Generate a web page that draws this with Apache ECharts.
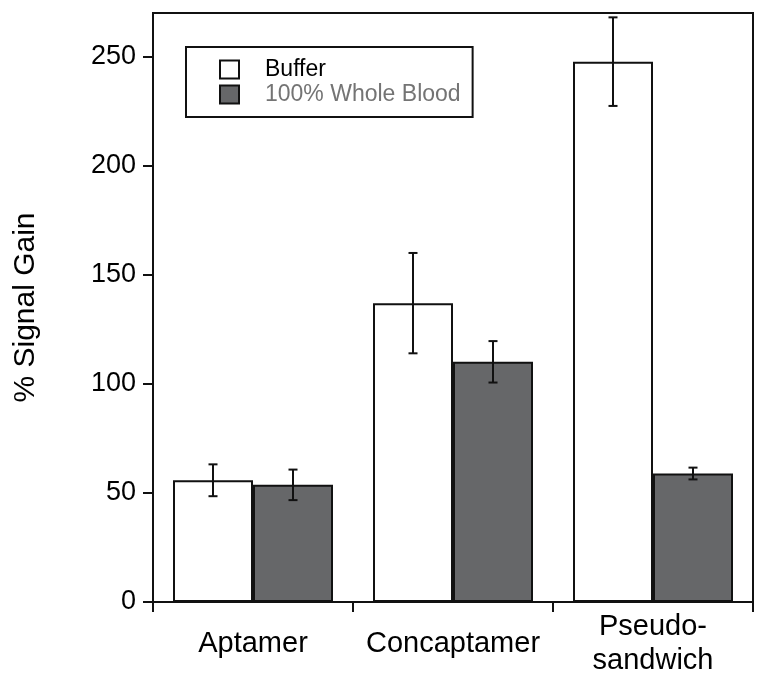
<!DOCTYPE html>
<html>
<head>
<meta charset="utf-8">
<script src="https://cdn.jsdelivr.net/npm/echarts@6/dist/echarts.min.js"></script>
<style>
html,body{margin:0;padding:0;background:#fff;}
#chart{width:767px;height:688px;}
</style>
</head>
<body>
<div id="chart"></div>
<script>
var categories = ['Aptamer', 'Concaptamer', 'Pseudo-\nsandwich'];
var seriesNames = ['Buffer', '100% Whole Blood'];
var bufferValues = [55.8, 137.0, 247.7];
var bloodValues = [53.7, 110.1, 58.9];
var bufferErrors = [7.3, 23.0, 20.3];
var bloodErrors = [7.0, 9.5, 2.7];
var yTicks = [0, 50, 100, 150, 200, 250];

var FONT = '"Liberation Sans", Arial, sans-serif';

function errorSeries(name, values, errors, side) {
  var data = values.map(function (v, i) { return [i, v - errors[i], v + errors[i]]; });
  return {
    type: 'custom',
    name: name + ' error',
    z: 10,
    silent: true,
    data: data,
    encode: { x: 0, y: [1, 2] },
    renderItem: function (params, api) {
      var idx = api.value(0);
      var lo = api.coord([idx, api.value(1)]);
      var hi = api.coord([idx, api.value(2)]);
      var band = api.size([1, 0])[0];
      var x = lo[0] + side * band * 0.2;
      var cap = 4.5;
      var st = { stroke: '#111', lineWidth: 2 };
      return {
        type: 'group',
        children: [
          { type: 'line', shape: { x1: x, y1: lo[1], x2: x, y2: hi[1] }, style: st },
          { type: 'line', shape: { x1: x - cap, y1: lo[1], x2: x + cap, y2: lo[1] }, style: st },
          { type: 'line', shape: { x1: x - cap, y1: hi[1], x2: x + cap, y2: hi[1] }, style: st }
        ]
      };
    }
  };
}

var chart = echarts.init(document.getElementById('chart'), null, { renderer: 'canvas' });
chart.setOption({
  animation: false,
  backgroundColor: '#fff',
  textStyle: { fontFamily: FONT },
  grid: {
    left: 153, top: 13, right: 14, bottom: 86,
    show: true, borderColor: '#111', borderWidth: 2, backgroundColor: 'transparent'
  },
  legend: {
    left: 186, top: 47,
    orient: 'vertical',
    borderColor: '#111', borderWidth: 2,
    padding: [11, 12, 11, 33],
    itemWidth: 19, itemHeight: 18, itemGap: 2,
    icon: 'rect',
    textStyle: { fontSize: 23, fontFamily: FONT, padding: [0, 0, 0, 21] },
    data: [
      { name: seriesNames[0], textStyle: { color: '#000' }, itemStyle: { color: '#fff', borderColor: '#111', borderWidth: 2 } },
      { name: seriesNames[1], textStyle: { color: '#747474' }, itemStyle: { color: '#666769', borderColor: '#111', borderWidth: 2 } }
    ]
  },
  xAxis: {
    type: 'category',
    data: categories,
    axisLine: { show: true, lineStyle: { color: '#111', width: 2 } },
    axisTick: { show: true, interval: 0, length: 10, lineStyle: { color: '#111', width: 2 } },
    axisLabel: {
      interval: 0, hideOverlap: false,
      color: '#000', fontSize: 29, fontFamily: FONT,
      lineHeight: 34, verticalAlign: 'middle', margin: 42
    },
    splitLine: { show: false }
  },
  yAxis: {
    type: 'value',
    min: 0, max: 270, interval: 50,
    name: '% Signal Gain',
    nameLocation: 'middle',
    nameRotate: 90,
    nameGap: 112,
    nameTextStyle: { fontSize: 30, color: '#000', fontFamily: FONT },
    axisLine: { show: true, lineStyle: { color: '#111', width: 2 } },
    axisTick: { show: true, length: 10, customValues: yTicks, lineStyle: { color: '#111', width: 2 } },
    axisLabel: { color: '#000', fontSize: 27, fontFamily: FONT, margin: 17, customValues: yTicks },
    splitLine: { show: false }
  },
  series: [
    {
      name: seriesNames[0], type: 'bar', data: bufferValues,
      barGap: '0%', barCategoryGap: '20%',
      itemStyle: { color: '#fff', borderColor: '#111', borderWidth: 2 }
    },
    {
      name: seriesNames[1], type: 'bar', data: bloodValues,
      barGap: '0%', barCategoryGap: '20%',
      itemStyle: { color: '#666769', borderColor: '#111', borderWidth: 2 }
    },
    errorSeries(seriesNames[0], bufferValues, bufferErrors, -1),
    errorSeries(seriesNames[1], bloodValues, bloodErrors, 1)
  ]
});
</script>
</body>
</html>
